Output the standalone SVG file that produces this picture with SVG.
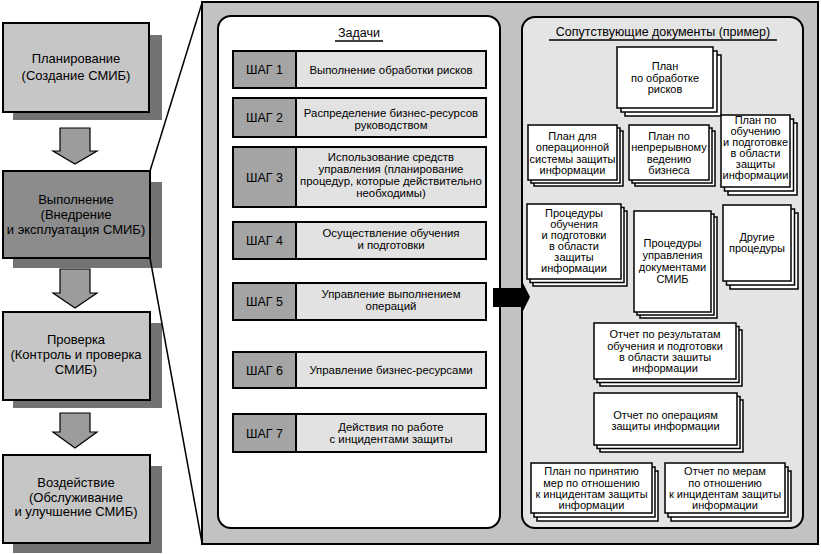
<svg xmlns="http://www.w3.org/2000/svg" width="821" height="554" viewBox="0 0 821 554">
<style>
text{font-family:"Liberation Sans",Arial,sans-serif;fill:#000;text-anchor:middle}
.t13{font-size:13px}
.t11{font-size:11px}
.s{font-size:11.4px}
.sl{font-size:12.5px}
.t12{font-size:12.5px}
.phase{stroke:#000;stroke-width:2}
.shadow{fill:#737373}
.sheet{fill:#fff;stroke:#000;stroke-width:1.5}
.lbl{fill:#a4a4a4;stroke:#000;stroke-width:2}
.txt{fill:#e2e2e2;stroke:#000;stroke-width:2}
.garrow{fill:#9c9c9c;stroke:#000;stroke-width:1.2}
.zl{stroke:#000;stroke-width:1.5;fill:none}
</style>
<rect x="0" y="0" width="821" height="554" fill="#fff"/>

<!-- outer panel -->
<g id="panel-outer">
<rect x="202" y="2" width="616" height="542" fill="#c2c2c2" stroke="#000" stroke-width="2"/>
</g>
<g id="panel-tasks">
<rect x="218" y="16" width="282" height="512" rx="13" fill="#fff" stroke="#000" stroke-width="2"/>
<text class="t12" x="359" y="37">Задачи</text>
<line x1="335" y1="41" x2="383" y2="41" stroke="#000" stroke-width="1.5"/>
</g>
<g id="panel-docs">
<rect x="522" y="17" width="281" height="511" rx="13" fill="#e4e4e4" stroke="#000" stroke-width="2"/>
<text class="t12" x="663" y="36">Сопутствующие документы (пример)</text>
<line x1="549" y1="40" x2="777" y2="40" stroke="#000" stroke-width="1.5"/>
</g>

<!-- phases -->
<g id="phase-plan">
<rect class="shadow" x="13" y="35" width="149" height="85"/>
<rect class="phase" x="3" y="23" width="146" height="89" fill="#c6c6c6"/>
<text class="t13" x="76" y="63">Планирование</text>
<text class="t13" x="76" y="80">(Создание СМИБ)</text>
</g>
<g id="phase-do">
<rect class="shadow" x="13" y="182" width="149" height="86"/>
<rect class="phase" x="3" y="171" width="147" height="87" fill="#8c8c8c"/>
<text class="t13" x="76" y="204">Выполнение</text>
<text class="t13" x="76" y="219">(Внедрение</text>
<text class="t13" x="76" y="234">и эксплуатация СМИБ)</text>
</g>
<g id="phase-check">
<rect class="shadow" x="13" y="323" width="149" height="85"/>
<rect class="phase" x="3" y="312" width="147" height="88" fill="#c6c6c6"/>
<text class="t13" x="76" y="344">Проверка</text>
<text class="t13" x="76" y="359">(Контроль и проверка</text>
<text class="t13" x="76" y="374">СМИБ)</text>
</g>
<g id="phase-act">
<rect class="shadow" x="13" y="466" width="149" height="87"/>
<rect class="phase" x="3" y="455" width="147" height="88" fill="#c6c6c6"/>
<text class="t13" x="76" y="487">Воздействие</text>
<text class="t13" x="76" y="502">(Обслуживание</text>
<text class="t13" x="76" y="516">и улучшение СМИБ)</text>
</g>

<!-- steps -->
<g id="step1">
<rect class="lbl" x="233" y="51" width="63" height="37"/>
<rect class="txt" x="296" y="51" width="190" height="37"/>
<text class="sl" x="264.5" y="74">ШАГ 1</text>
<text class="s" x="391" y="73.5">Выполнение обработки рисков</text>
</g>
<g id="step2">
<rect class="lbl" x="233" y="98" width="63" height="39"/>
<rect class="txt" x="296" y="98" width="190" height="39"/>
<text class="sl" x="264.5" y="122">ШАГ 2</text>
<text class="s" x="391" y="117">Распределение бизнес-ресурсов</text>
<text class="s" x="391" y="128.5">руководством</text>
</g>
<g id="step3">
<rect class="lbl" x="233" y="147" width="63" height="60"/>
<rect class="txt" x="296" y="147" width="190" height="60"/>
<text class="sl" x="264.5" y="181.5">ШАГ 3</text>
<text class="s" x="391" y="161">Использование средств</text>
<text class="s" x="391" y="173">управления (планирование</text>
<text class="s" x="391" y="185">процедур, которые действительно</text>
<text class="s" x="391" y="197">необходимы)</text>
</g>
<g id="step4">
<rect class="lbl" x="233" y="222" width="63" height="37"/>
<rect class="txt" x="296" y="222" width="190" height="37"/>
<text class="sl" x="264.5" y="245">ШАГ 4</text>
<text class="s" x="391" y="237">Осуществление обучения</text>
<text class="s" x="391" y="249">и подготовки</text>
</g>
<g id="step5">
<rect class="lbl" x="233" y="283" width="63" height="37"/>
<rect class="txt" x="296" y="283" width="190" height="37"/>
<text class="sl" x="264.5" y="306">ШАГ 5</text>
<text class="s" x="391" y="298">Управление выполнением</text>
<text class="s" x="391" y="310">операций</text>
</g>
<g id="step6">
<rect class="lbl" x="233" y="352" width="63" height="36"/>
<rect class="txt" x="296" y="352" width="190" height="36"/>
<text class="sl" x="264.5" y="374.5">ШАГ 6</text>
<text class="s" x="391" y="374">Управление бизнес-ресурсами</text>
</g>
<g id="step7">
<rect class="lbl" x="233" y="414" width="63" height="38"/>
<rect class="txt" x="296" y="414" width="190" height="38"/>
<text class="sl" x="264.5" y="437.5">ШАГ 7</text>
<text class="s" x="391" y="431">Действия по работе</text>
<text class="s" x="391" y="443">с инцидентами защиты</text>
</g>

<!-- documents -->
<g id="doc1">
<rect class="sheet" x="625" y="55" width="96" height="61"/>
<rect class="sheet" x="621" y="51" width="96" height="61"/>
<rect class="sheet" x="617" y="47" width="96" height="61"/>
<text class="t11" x="665" y="70">План</text>
<text class="t11" x="665" y="81.5">по обработке</text>
<text class="t11" x="665" y="93">рисков</text>
</g>
<g id="doc2">
<rect class="sheet" x="534" y="131" width="89" height="55"/>
<rect class="sheet" x="531" y="128" width="89" height="55"/>
<rect class="sheet" x="528" y="125" width="89" height="55"/>
<text class="t11" x="572.5" y="139.5">План для</text>
<text class="t11" x="572.5" y="151">операционной</text>
<text class="t11" x="572.5" y="162.5">системы защиты</text>
<text class="t11" x="572.5" y="174">информации</text>
</g>
<g id="doc3">
<rect class="sheet" x="635" y="131" width="80" height="55"/>
<rect class="sheet" x="632" y="128" width="80" height="55"/>
<rect class="sheet" x="629" y="125" width="80" height="55"/>
<text class="t11" x="669" y="139.5">План по</text>
<text class="t11" x="669" y="151">непрерывному</text>
<text class="t11" x="669" y="162.5">ведению</text>
<text class="t11" x="669" y="174">бизнеса</text>
</g>
<g id="doc4">
<rect class="sheet" x="728" y="123" width="69" height="72"/>
<rect class="sheet" x="724.5" y="119" width="69" height="72"/>
<rect class="sheet" x="721" y="115" width="69" height="72"/>
<text class="t11" x="755.5" y="124">План по</text>
<text class="t11" x="755.5" y="135">обучению</text>
<text class="t11" x="755.5" y="146">и подготовке</text>
<text class="t11" x="755.5" y="157">в области</text>
<text class="t11" x="755.5" y="168">защиты</text>
<text class="t11" x="755.5" y="179">информации</text>
</g>
<g id="doc5">
<rect class="sheet" x="533" y="211" width="94" height="75"/>
<rect class="sheet" x="530" y="207.5" width="94" height="75"/>
<rect class="sheet" x="527" y="204" width="94" height="75"/>
<text class="t11" x="574" y="217">Процедуры</text>
<text class="t11" x="574" y="228">обучения</text>
<text class="t11" x="574" y="239">и подготовки</text>
<text class="t11" x="574" y="250">в области</text>
<text class="t11" x="574" y="261">защиты</text>
<text class="t11" x="574" y="272">информации</text>
</g>
<g id="doc6">
<rect class="sheet" x="640" y="217" width="77" height="101"/>
<rect class="sheet" x="637" y="214" width="77" height="101"/>
<rect class="sheet" x="634" y="211" width="77" height="101"/>
<text class="t11" x="672.5" y="247">Процедуры</text>
<text class="t11" x="672.5" y="259">управления</text>
<text class="t11" x="672.5" y="271">документами</text>
<text class="t11" x="672.5" y="283">СМИБ</text>
</g>
<g id="doc7">
<rect class="sheet" x="730" y="213" width="68" height="76"/>
<rect class="sheet" x="726.5" y="209" width="68" height="76"/>
<rect class="sheet" x="723" y="205" width="68" height="76"/>
<text class="t11" x="757" y="241">Другие</text>
<text class="t11" x="757" y="252">процедуры</text>
</g>
<g id="doc8">
<rect class="sheet" x="600" y="330" width="142" height="56"/>
<rect class="sheet" x="597" y="326.5" width="142" height="56"/>
<rect class="sheet" x="594" y="323" width="142" height="56"/>
<text class="t11" x="665" y="338">Отчет по результатам</text>
<text class="t11" x="665" y="349.5">обучения и подготовки</text>
<text class="t11" x="665" y="361">в области зашиты</text>
<text class="t11" x="665" y="372">информации</text>
</g>
<g id="doc9">
<rect class="sheet" x="600" y="400" width="143" height="52"/>
<rect class="sheet" x="597" y="396.5" width="143" height="52"/>
<rect class="sheet" x="594" y="393" width="143" height="52"/>
<text class="t11" x="665.5" y="419">Отчет по операциям</text>
<text class="t11" x="665.5" y="430">защиты информации</text>
</g>
<g id="doc10">
<rect class="sheet" x="537" y="471" width="121" height="50"/>
<rect class="sheet" x="534" y="467" width="121" height="50"/>
<rect class="sheet" x="531" y="463" width="121" height="50"/>
<text class="t11" x="591.5" y="475">План по принятию</text>
<text class="t11" x="591.5" y="486.5">мер по отношению</text>
<text class="t11" x="591.5" y="498">к инцидентам защиты</text>
<text class="t11" x="591.5" y="509">информации</text>
</g>
<g id="doc11">
<rect class="sheet" x="671" y="471" width="120" height="50"/>
<rect class="sheet" x="668" y="467" width="120" height="50"/>
<rect class="sheet" x="665" y="463" width="120" height="50"/>
<text class="t11" x="725" y="475">Отчет по мерам</text>
<text class="t11" x="725" y="486.5">по отношению</text>
<text class="t11" x="725" y="498">к инцидентам защиты</text>
<text class="t11" x="725" y="509">информации</text>
</g>

<!-- connectors -->
<g id="connectors">
<polygon class="garrow" points="60,128 90,128 90,151 97,151 75,164 53,151 60,151"/>
<polygon class="garrow" points="60,269 90,269 90,293 97,293 75,308 53,293 60,293"/>
<polygon class="garrow" points="60,413 90,413 90,432 97,432 75,448 53,432 60,432"/>
<line class="zl" x1="150" y1="171" x2="202" y2="3"/>
<line class="zl" x1="150" y1="258" x2="202" y2="543"/>
<polygon fill="#000" points="493,288 523,288 523,283 530,297 523,311 523,307 493,307"/>
</g>
</svg>
